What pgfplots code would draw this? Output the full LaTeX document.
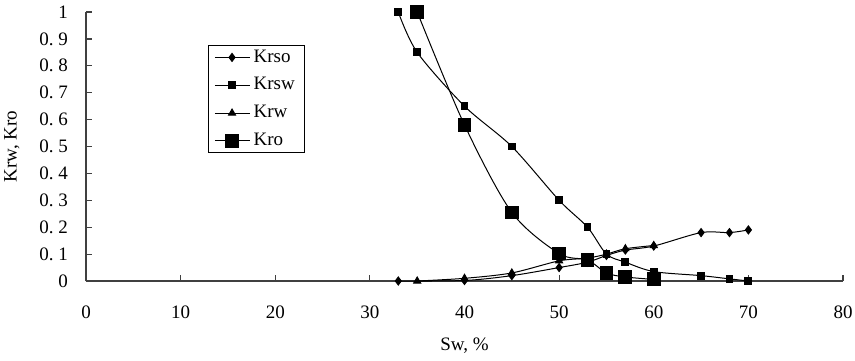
\documentclass[border=0pt]{standalone}
\usepackage{pgfplots}
\pgfplotsset{compat=1.18}
\usepackage{fontspec}
\setmainfont{Liberation Serif}
\begin{document}
\begin{tikzpicture}
\begin{axis}[
  scale only axis,
  width=378.5pt, height=134.5pt,
  xmin=0, xmax=80, ymin=0, ymax=1,
  axis lines=left,
  axis line style={-, black!75, line width=0.6pt},
  tick style={black!75, line width=0.6pt},
  tick align=inside,
  major tick length=3pt,
  xtick={0,10,...,80},
  ytick={0,0.1,...,1},
  yticklabels={0,0.\kern.25em1,0.\kern.25em2,0.\kern.25em3,0.\kern.25em4,0.\kern.25em5,0.\kern.25em6,0.\kern.25em7,0.\kern.25em8,0.\kern.25em9,1},
  font=\fontsize{9.5}{11}\selectfont,
  /pgf/number format/assume math mode=true,
  xticklabel style={font=\fontsize{9.5}{11}\selectfont},
  yticklabel style={font=\fontsize{9.5}{11}\selectfont},
  xticklabel shift=9pt,
  yticklabel shift=5.5pt,
  xlabel={Sw, \%},
  ylabel={Krw, Kro},
  x label style={at={(axis description cs:0.5,-0.24)}, anchor=center},
  y label style={at={(axis description cs:-0.098,0.5)}, anchor=center, rotate=0},
  legend cell align=left,
  legend style={at={(axis description cs:0.161,0.877)}, anchor=north west,
    draw=black, line width=0.6pt, font=\fontsize{9.5}{11}\selectfont,
    row sep=2.2pt, inner xsep=3pt, inner ysep=0pt},
  every axis plot/.append style={black, line width=0.5pt, smooth, tension=0.5},
  clip=false,
]
\addplot[mark=diamond*, mark size=2pt, mark options={fill=black}] coordinates {
 (33,0) (40,0.002) (45,0.02) (50,0.05) (53,0.07) (55,0.095) (57,0.115) (60,0.13) (65,0.18) (68,0.18) (70,0.19)};
\addlegendentry{Krso}
\addplot[mark=square*, mark size=1.7pt, mark options={fill=black}] coordinates {
 (33,1.0) (35,0.85) (40,0.65) (45,0.5) (50,0.3) (53,0.2) (55,0.1) (57,0.07) (60,0.035) (65,0.02) (68,0.008) (70,0)};
\addlegendentry{Krsw}
\addplot[mark=triangle*, mark size=2pt, mark options={fill=black}] coordinates {
 (35,0) (40,0.01) (45,0.03) (50,0.075) (53,0.085) (55,0.1) (57,0.12) (60,0.132)};
\addlegendentry{Krw}
\addplot[mark=square*, mark size=3.2pt, mark options={fill=black}] coordinates {
 (35,1.0) (40,0.58) (45,0.255) (50,0.102) (53,0.078) (55,0.03) (57,0.015) (60,0.006)};
\addlegendentry{Kro}
\end{axis}
\pgfresetboundingbox
\useasboundingbox ([shift={(-43pt,-39.5pt)}]current axis.south west) rectangle ([shift={(6pt,6pt)}]current axis.north east);
\end{tikzpicture}
\end{document}
